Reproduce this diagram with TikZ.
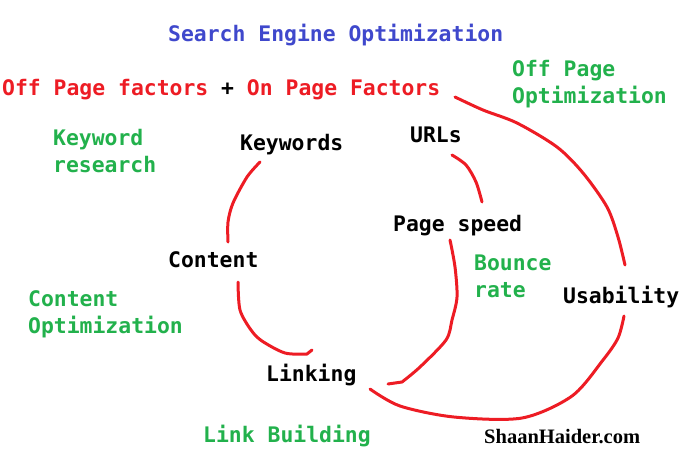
\documentclass[tikz,border=0pt]{standalone}
\usepackage{fontspec}
\setmonofont{DejaVu Sans Mono}
\newfontfamily\creditfont{Liberation Serif}

\definecolor{seoblue}{RGB}{63,72,204}
\definecolor{seored}{RGB}{237,28,36}
\definecolor{seogreen}{RGB}{34,177,76}

\tikzset{
    label/.style={inner sep=0pt, anchor=base west, align=left,
        font=\ttfamily\bfseries\fontsize{21.4}{26.5}\selectfont},
    note/.style={label, text=seogreen},
    pen/.style={draw=seored, line width=3pt, line cap=round, line join=round}
}
% one freehand red stroke through the given points
\newcommand\pen[1]{\draw[pen] plot[smooth] coordinates {#1}}

\begin{document}
\begin{tikzpicture}[x=1pt, y=-1pt]
    \useasboundingbox (0,0) rectangle (684,451);

    % Headings
    \node[label, text=seoblue] (title) at (168,41) {Search Engine Optimization};
    \node[label] (factors) at (2,95)
        {\textcolor{seored}{Off Page factors} + \textcolor{seored}{On Page Factors}};

    % Factors
    \node[label] (keywords)  at (240,150) {Keywords};
    \node[label] (urls)      at (410,142) {URLs};
    \node[label] (speed)     at (393,231) {Page speed};
    \node[label] (content)   at (168,267) {Content};
    \node[label] (usability) at (563,303) {Usability};
    \node[label] (linking)   at (266,381) {Linking};

    % Green notes (base is the last line)
    \node[note] (offopt)    at (512,103) {Off Page\\Optimization};
    \node[note] (kwres)     at (53,172)  {Keyword\\research};
    \node[note] (bounce)    at (474,297) {Bounce\\rate};
    \node[note] (contopt)   at (28,333)  {Content\\Optimization};
    \node[note] (linkbuild) at (203,442) {Link Building};

    \node[inner sep=0pt, anchor=base west,
          font=\creditfont\bfseries\fontsize{20.5}{24}\selectfont]
          (credit) at (484,443) {ShaanHaider.com};

    % Red strokes
    \pen{(260,162) (247,177) (233,203) (228,222) (228,242)};
    \pen{(238,282) (240,310) (251,330) (262,341) (285,353) (307,354)} -- (312,350);
    \pen{(452,155) (466,165) (476,182) (482,202)};
    \pen{(450,240) (455,267) (457,297) (452,320) (446,340) (420,367) (402,382)} -- (388,384);
    \pen{(455,97) (483,110) (517,123) (557,147) (583,173) (607,207) (618,237) (625,265)};
    \pen{(624,316) (618,338) (603,360) (572,396) (522,418) (454,417) (400,406) (370,389)};
\end{tikzpicture}
\end{document}
